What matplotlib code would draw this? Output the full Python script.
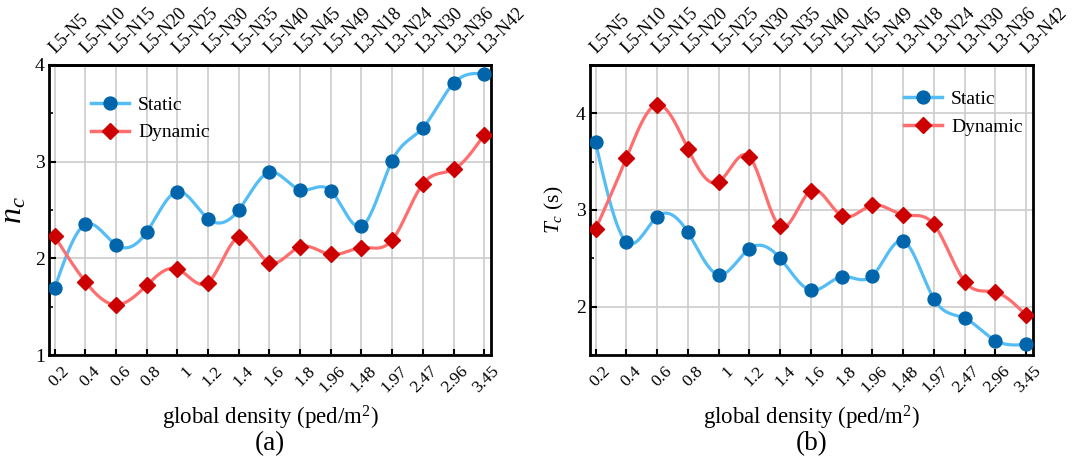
import numpy as np
import matplotlib
matplotlib.use("Agg")
import matplotlib.pyplot as plt
from matplotlib.lines import Line2D
import matplotlib.transforms as mtransforms

plt.rcParams['font.family'] = ['Liberation Serif', 'DejaVu Serif']
plt.rcParams['mathtext.fontset'] = 'custom'
plt.rcParams['mathtext.it'] = 'Liberation Serif:italic'
plt.rcParams['mathtext.rm'] = 'Liberation Serif'

density_labels = ['0.2', '0.4', '0.6', '0.8', '1', '1.2', '1.4', '1.6', '1.8',
                  '1.96', '1.48', '1.97', '2.47', '2.96', '3.45']
scenario_labels = ['L5-N5', 'L5-N10', 'L5-N15', 'L5-N20', 'L5-N25', 'L5-N30',
                   'L5-N35', 'L5-N40', 'L5-N45', 'L5-N49', 'L3-N18', 'L3-N24',
                   'L3-N30', 'L3-N36', 'L3-N42']

nc_static = [1.69, 2.35, 2.14, 2.27, 2.69, 2.41, 2.50, 2.89, 2.71, 2.70,
             2.33, 3.01, 3.35, 3.81, 3.91]
nc_dynamic = [2.23, 1.76, 1.52, 1.72, 1.89, 1.75, 2.22, 1.955, 2.12, 2.04,
              2.11, 2.19, 2.77, 2.92, 3.28]
tc_static = [3.70, 2.67, 2.93, 2.77, 2.33, 2.60, 2.50, 2.17, 2.31, 2.32,
             2.68, 2.08, 1.88, 1.65, 1.61]
tc_dynamic = [2.80, 3.535, 4.09, 3.635, 3.29, 3.55, 2.83, 3.20, 2.94, 3.05,
              2.95, 2.85, 2.26, 2.15, 1.91]

LIGHT_BLUE = '#55bdf5'
DARK_BLUE = '#0065aa'
LIGHT_RED = '#ff6e6e'
DARK_RED = '#cc0000'


def natural_spline(x, y, per_seg=40):
    x = np.asarray(x, float)
    y = np.asarray(y, float)
    n = len(x)
    h = np.diff(x)
    A = np.zeros((n, n))
    b = np.zeros(n)
    A[0, 0] = 1
    A[-1, -1] = 1
    for i in range(1, n - 1):
        A[i, i - 1] = h[i - 1]
        A[i, i] = 2 * (h[i - 1] + h[i])
        A[i, i + 1] = h[i]
        b[i] = 3 * ((y[i + 1] - y[i]) / h[i] - (y[i] - y[i - 1]) / h[i - 1])
    c = np.linalg.solve(A, b)
    xs, ys = [], []
    for i in range(n - 1):
        t = np.linspace(0, h[i], per_seg, endpoint=(i == n - 2))
        bb = (y[i + 1] - y[i]) / h[i] - h[i] * (2 * c[i] + c[i + 1]) / 3
        d = (c[i + 1] - c[i]) / (3 * h[i])
        xs.append(x[i] + t)
        ys.append(y[i] + bb * t + c[i] * t ** 2 + d * t ** 3)
    return np.concatenate(xs), np.concatenate(ys)


fig = plt.figure(figsize=(10.92, 4.66), dpi=100)
ax1 = fig.add_axes([49 / 1092, 111 / 466, 442 / 1092, 290 / 466])
ax2 = fig.add_axes([590 / 1092, 111 / 466, 443 / 1092, 290 / 466])

x = np.arange(len(density_labels))


def style(ax, static, dynamic, ylim, yticks, ylabel, ylabel_size, ylabel_x,
          panel, legend_anchor):
    for vals, lc, mc, mk, ms in [(static, LIGHT_BLUE, DARK_BLUE, 'o', 9.3),
                                 (dynamic, LIGHT_RED, DARK_RED, 'D', 8.5)]:
        sx, sy = natural_spline(x, vals)
        ax.plot(sx, sy, color=lc, lw=2.3, zorder=3, solid_capstyle='round')
        ax.plot(x, vals, ls='none', marker=mk, ms=ms, mfc=mc, mec=mc, zorder=4)
    ax.set_xlim(-0.18, 14.22)
    ax.set_ylim(*ylim)
    ax.set_yticks(yticks)
    ax.set_yticks(np.arange(ylim[0], ylim[1] + 0.01, 0.5), minor=True)
    ax.set_xticks(x)
    ax.tick_params(axis='x', which='both', direction='in', length=4, width=1.5,
                   pad=10, colors='black')
    ax.tick_params(axis='y', which='major', direction='in', length=5, width=1.5,
                   labelsize=14, pad=3)
    ax.tick_params(axis='y', which='minor', direction='in', length=3, width=1.2)
    ax.set_xticklabels(density_labels, rotation=45, ha='right', va='center',
                       rotation_mode='anchor', fontsize=12.5)
    ax.grid(True, which='major', color='#cccccc', lw=1.2, zorder=0)
    ax.set_axisbelow(True)
    for sp in ax.spines.values():
        sp.set_linewidth(2.0)
        sp.set_color('black')
    ax.set_ylabel(ylabel, fontsize=ylabel_size)
    ax.yaxis.set_label_coords(ylabel_x, 0.5)
    ax.set_xlabel('global density (ped/m$^2$)', fontsize=16.5)
    ax.xaxis.set_label_coords(0.5, -0.17)
    ax.text(0.5, -0.262, panel, transform=ax.transAxes, ha='center',
            va='top', fontsize=19.5)

    sec = ax.secondary_xaxis('top')
    sec.set_xticks(x)
    sec.tick_params(axis='x', length=0, pad=10)
    sec.set_xticklabels(scenario_labels, rotation=45, ha='left', va='center',
                        rotation_mode='anchor', fontsize=13)
    sec.spines['top'].set_linewidth(2.0)

    off = mtransforms.ScaledTranslation(9 / 72, 0, fig.dpi_scale_trans)
    for lab in ax.get_xticklabels():
        lab.set_transform(lab.get_transform() + off)
    off2 = mtransforms.ScaledTranslation(-1.5 / 72, 0, fig.dpi_scale_trans)
    for lab in sec.get_xticklabels():
        lab.set_transform(lab.get_transform() + off2)

    handles = [Line2D([], [], color=LIGHT_BLUE, lw=2.5, marker='o', ms=9.3,
                      mfc=DARK_BLUE, mec=DARK_BLUE),
               Line2D([], [], color=LIGHT_RED, lw=2.5, marker='D', ms=8.5,
                      mfc=DARK_RED, mec=DARK_RED)]
    ax.legend(handles, ['Static', 'Dynamic'], loc='upper left',
              bbox_to_anchor=legend_anchor, frameon=False, fontsize=14,
              handlelength=1.95, handletextpad=0.45, labelspacing=0.52,
              borderaxespad=0)


style(ax1, nc_static, nc_dynamic, (1, 4), [1, 2, 3, 4], '$n_c$', 23, -0.046,
      '(a)', (0.078, 0.92))
style(ax2, tc_static, tc_dynamic, (1.5, 4.5), [2, 3, 4], '$T_c$ (s)', 15.5,
      -0.055, '(b)', (0.692, 0.94))

fig.savefig('out.png', dpi=100)
